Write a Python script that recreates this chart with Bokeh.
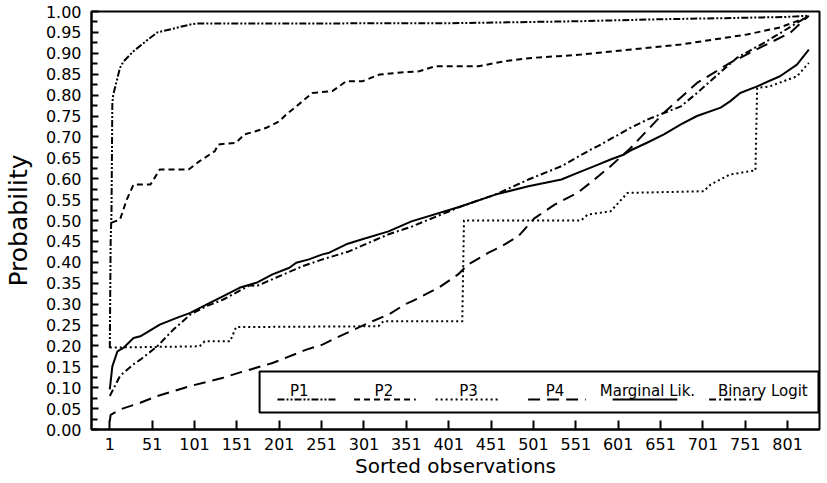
from bokeh.plotting import figure
from bokeh.models import Range1d, FixedTicker, PrintfTickFormatter, BoxAnnotation, Label
from bokeh.embed import file_html
from bokeh.resources import INLINE

# ---------------- data ----------------
x_ticks = [1, 51, 101, 151, 201, 251, 301, 351, 401, 451, 501, 551, 601, 651, 701, 751, 801]
y_ticks = [round(0.05 * i, 2) for i in range(21)]
y_minor = [round(0.025 + 0.05 * i, 3) for i in range(20)]

p1_x = [1, 2, 3, 4, 5, 13, 17, 29, 46, 57, 72, 96, 104, 400, 470, 560, 640, 750, 800, 826]
p1_y = [0.195, 0.45, 0.52, 0.78, 0.80, 0.865, 0.88, 0.905, 0.933, 0.95, 0.957, 0.969, 0.971,
        0.972, 0.974, 0.977, 0.981, 0.985, 0.987, 0.990]

p2_x = [3, 13, 17, 21, 29, 49, 60, 94, 107, 125, 129, 150, 160, 174, 186, 201, 210, 217, 240,
        264, 280, 299, 319, 338, 366, 385, 436, 467, 499, 530, 557, 596, 636, 675, 714, 753,
        792, 823, 826]
p2_y = [0.495, 0.502, 0.526, 0.55, 0.586, 0.586, 0.622, 0.622, 0.642, 0.666, 0.682, 0.686,
        0.706, 0.714, 0.722, 0.7375, 0.755, 0.766, 0.805, 0.810, 0.833, 0.833, 0.849, 0.853,
        0.857, 0.869, 0.869, 0.881, 0.889, 0.893, 0.897, 0.905, 0.913, 0.921, 0.933, 0.945,
        0.962, 0.985, 0.99]

p3_x = [1, 107, 113, 143, 150, 318, 324, 417, 419, 557, 565, 592, 612, 702, 710, 733, 757,
        763, 765, 780, 812, 826]
p3_y = [0.196, 0.199, 0.211, 0.211, 0.245, 0.247, 0.259, 0.259, 0.50, 0.50, 0.514, 0.522,
        0.566, 0.570, 0.586, 0.610, 0.618, 0.62, 0.817, 0.821, 0.845, 0.877]

p4_x = [1, 2, 13, 37, 57, 96, 135, 154, 193, 233, 252, 272, 311, 330, 350, 358, 389, 412,
        424, 448, 463, 483, 502, 526, 553, 573, 592, 616, 655, 694, 733, 772, 804, 826]
p4_y = [0.02, 0.035, 0.048, 0.064, 0.080, 0.104, 0.124, 0.136, 0.159, 0.191, 0.203, 0.223,
        0.259, 0.275, 0.300, 0.307, 0.339, 0.371, 0.395, 0.423, 0.438, 0.462, 0.505, 0.538,
        0.566, 0.598, 0.630, 0.674, 0.758, 0.829, 0.877, 0.917, 0.949, 0.990]

ml_x = [1, 4, 10, 17, 29, 37, 60, 80, 96, 115, 135, 154, 174, 193, 213, 221, 236, 252, 260,
        280, 299, 330, 357, 416, 456, 495, 534, 553, 573, 592, 608, 616, 635, 655, 675, 694,
        722, 733, 745, 765, 792, 812, 826]
ml_y = [0.096, 0.151, 0.187, 0.195, 0.219, 0.223, 0.251, 0.267, 0.279, 0.299, 0.319, 0.339,
        0.351, 0.371, 0.387, 0.399, 0.407, 0.419, 0.423, 0.443, 0.455, 0.474, 0.498, 0.534,
        0.562, 0.582, 0.598, 0.614, 0.630, 0.646, 0.658, 0.668, 0.686, 0.706, 0.730, 0.750,
        0.770, 0.785, 0.805, 0.821, 0.845, 0.873, 0.909]

bl_x = [1, 13, 29, 37, 57, 76, 96, 115, 135, 166, 174, 197, 229, 252, 283, 330, 358, 416,
        456, 495, 534, 569, 577, 616, 636, 675, 694, 714, 741, 773, 796, 826]
bl_y = [0.080, 0.128, 0.156, 0.167, 0.199, 0.239, 0.275, 0.295, 0.311, 0.345, 0.343, 0.363,
        0.391, 0.407, 0.426, 0.467, 0.486, 0.534, 0.562, 0.598, 0.630, 0.670, 0.678, 0.722,
        0.742, 0.773, 0.805, 0.841, 0.889, 0.925, 0.953, 0.990]

labels = ["P1", "P2", "P3", "P4", "Marginal Lik.", "Binary Logit"]

# ---------------- styles ----------------
styles = [
    dict(line_dash="7 2 2 2 2 2", line_width=2),
    dict(line_dash="6 4", line_width=2),
    dict(line_dash="2 3", line_width=2),
    dict(line_dash="12 7", line_width=2),
    dict(line_dash="solid", line_width=2),
    dict(line_dash="7 3 2 3", line_width=2),
]
series = [(p1_x, p1_y), (p2_x, p2_y), (p3_x, p3_y), (p4_x, p4_y), (ml_x, ml_y), (bl_x, bl_y)]

X0, X1 = -20.6, 838.6
p = figure(width=822, height=481, output_backend="svg", toolbar_location=None,
           x_range=Range1d(X0, X1), y_range=Range1d(0, 1),
           min_border_left=87, min_border_right=3, min_border_top=11, min_border_bottom=52)
p.xgrid.visible = False
p.ygrid.visible = False
p.outline_line_color = "black"
p.outline_line_width = 2
p.outline_line_alpha = 1.0
p.background_fill_color = "white"
p.border_fill_color = "white"

for (xs, ys), st in zip(series, styles):
    p.line(xs, ys, line_color="black", line_join="round", **st)

# axes
for ax in (p.xaxis[0], p.yaxis[0]):
    ax.axis_line_width = 2
    ax.axis_line_color = "black"
    ax.major_tick_line_width = 2
    ax.major_tick_line_color = "black"
    ax.minor_tick_line_width = 2
    ax.minor_tick_line_color = "black"
    ax.major_tick_out = 0
    ax.minor_tick_out = 0
    ax.major_label_text_font = "DejaVu Sans"
    ax.major_label_text_font_size = "16px"
    ax.major_label_text_color = "black"
    ax.axis_label_text_font_style = "normal"
    ax.axis_label_text_color = "black"

p.xaxis.ticker = FixedTicker(ticks=x_ticks, minor_ticks=[])
p.xaxis.major_tick_in = 9
p.xaxis.minor_tick_in = 0
p.xaxis.major_label_standoff = 8
p.xaxis.axis_label = "Sorted observations"
p.xaxis.axis_label_text_font = "DejaVu Sans"
p.xaxis.axis_label_text_font_size = "20px"
p.xaxis.axis_label_standoff = 1

p.yaxis.ticker = FixedTicker(ticks=y_ticks, minor_ticks=y_minor)
p.yaxis.formatter = PrintfTickFormatter(format="%.2f")
p.yaxis.major_tick_in = 7
p.yaxis.minor_tick_in = 6
p.yaxis.major_label_standoff = 10
p.yaxis.axis_label = "Probability"
p.yaxis.axis_label_text_font = "DejaVu Sans"
p.yaxis.axis_label_text_font_size = "25px"
p.yaxis.axis_label_standoff = 10

# ---------------- legend (layout in page pixels -> data units) ----------------
FL, FR, FT, FB = 91.0, 823.0, 12.0, 430.0


def lx(px):
    return X0 + (px - FL) / (FR - FL) * (X1 - X0)


def ly(py):
    return (FB - py) / (FB - FT)


box = BoxAnnotation(left=lx(260), right=lx(822), top=ly(372), bottom=ly(413),
                    fill_color="white", fill_alpha=1.0, line_color="black",
                    line_alpha=1.0, line_width=2)
p.add_layout(box)

label_cx = [300, 385, 470, 557, 650, 766]
sample_l = [278, 355, 437, 530, 615, 712]
sample_r = [338, 417, 502, 588, 680, 765]
for lab, cx, sl, sr, st in zip(labels, label_cx, sample_l, sample_r, styles):
    p.add_layout(Label(x=lx(cx), y=ly(391), text=lab, text_align="center",
                       text_baseline="alphabetic", text_font="DejaVu Sans",
                       text_font_size="15px", text_color="black", level="overlay"))
    p.line([lx(sl), lx(sr)], [ly(400), ly(400)], line_color="black", level="overlay", **st)

open("out.html", "w").write(file_html(p, INLINE))
